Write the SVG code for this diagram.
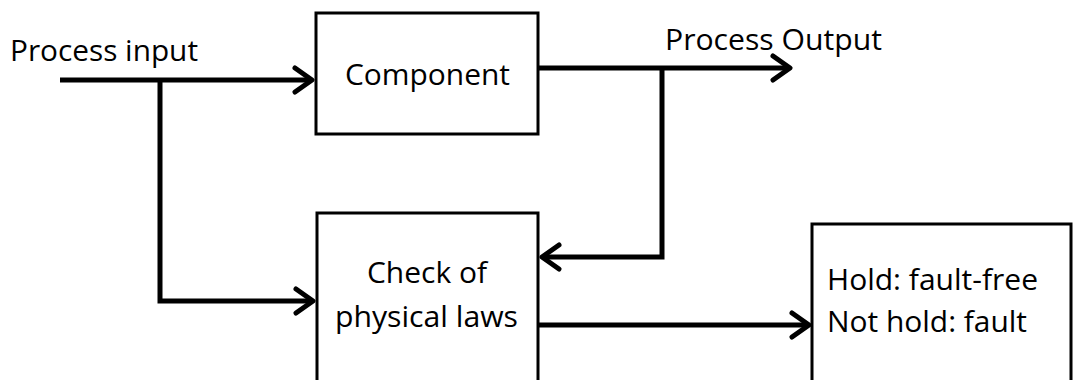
<svg xmlns="http://www.w3.org/2000/svg" width="1074" height="380" viewBox="0 0 1074 380">
<style>
.box{fill:#fff;stroke:#000;stroke-width:3}
.ln{fill:none;stroke:#000;stroke-width:5;stroke-linejoin:miter}
.t{font-family:"Open Sans","Liberation Sans",sans-serif;font-size:28.5px;fill:#000}
</style>
<defs>
<marker id="arr" markerUnits="userSpaceOnUse" markerWidth="30" markerHeight="30" viewBox="-20 -15 30 30" refX="0" refY="0" orient="auto">
<polyline points="-17,-12 0,0 -17,12" fill="none" stroke="#000" stroke-width="5" stroke-linecap="round" stroke-linejoin="round"/>
</marker>
</defs>
<g id="connectors">
<path class="ln" d="M60,80 H312" marker-end="url(#arr)"/>
<path class="ln" d="M160,80 V301 H313" marker-end="url(#arr)"/>
<path class="ln" d="M539,68 H790" marker-end="url(#arr)"/>
<path class="ln" d="M662,68 V257 H542" marker-end="url(#arr)"/>
<path class="ln" d="M539,325 H809" marker-end="url(#arr)"/>
</g>
<g id="label-input"><text class="t" x="10" y="61" textLength="188" lengthAdjust="spacingAndGlyphs">Process input</text></g>
<g id="label-output"><text class="t" x="665" y="50" textLength="217" lengthAdjust="spacingAndGlyphs">Process Output</text></g>
<g id="component">
<rect class="box" x="316" y="13" width="222" height="121"/>
<text class="t" x="345" y="85" textLength="165" lengthAdjust="spacingAndGlyphs">Component</text>
</g>
<g id="check">
<rect class="box" x="317" y="213" width="221" height="170"/>
<text class="t" x="367" y="283" textLength="120" lengthAdjust="spacingAndGlyphs">Check of</text>
<text class="t" x="335" y="327" textLength="183" lengthAdjust="spacingAndGlyphs">physical laws</text>
</g>
<g id="result">
<rect class="box" x="812" y="224" width="259" height="160"/>
<text class="t" x="827" y="290" textLength="211" lengthAdjust="spacingAndGlyphs">Hold: fault-free</text>
<text class="t" x="827" y="332" textLength="200" lengthAdjust="spacingAndGlyphs">Not hold: fault</text>
</g>
</svg>
